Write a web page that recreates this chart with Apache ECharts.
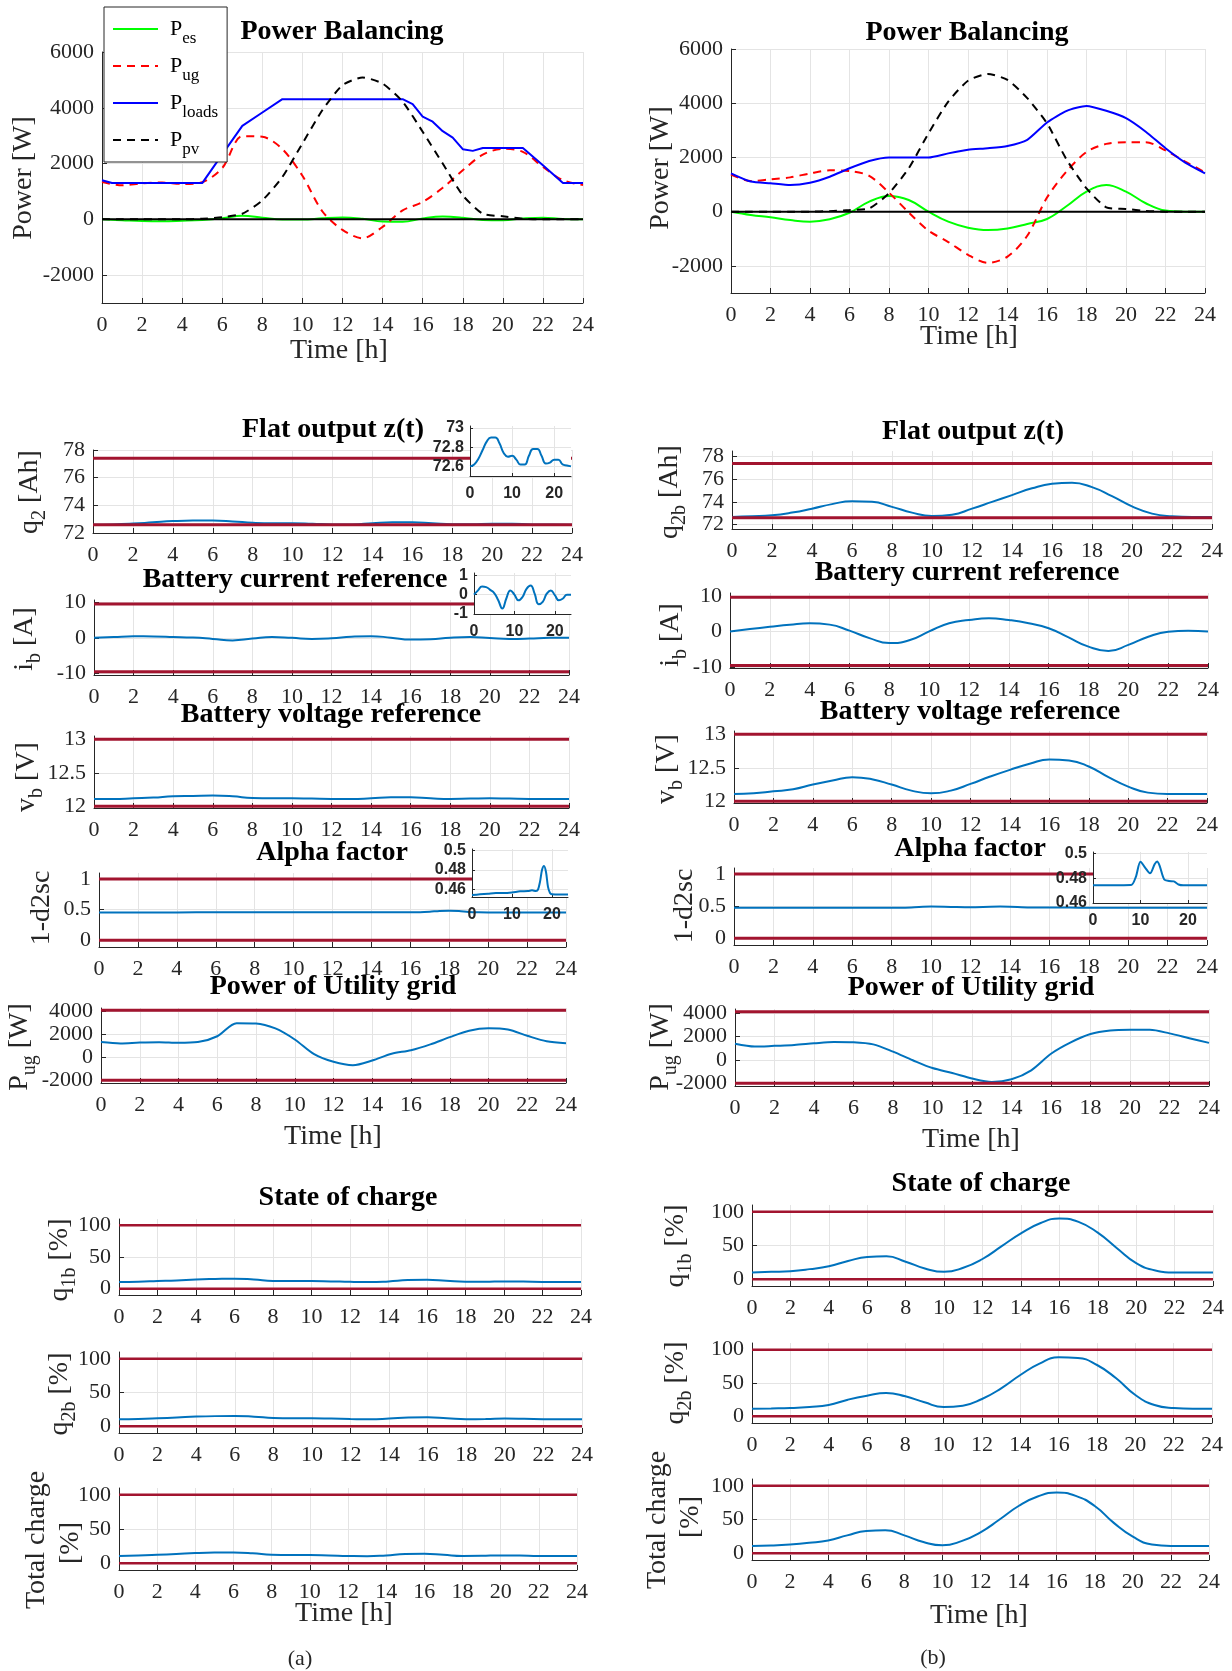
<!DOCTYPE html>
<html><head><meta charset="utf-8">
<script src="https://cdn.jsdelivr.net/npm/echarts@6/dist/echarts.min.js"></script>
<style>html,body{margin:0;padding:0;background:#fff}#c{width:1232px;height:1671px}</style>
</head><body><div id="c"></div>
<script>
// ---------- shared ----------
const hours = [0,1,2,3,4,5,6,7,8,9,10,11,12,13,14,15,16,17,18,19,20,21,22,23,24];
const xTickValues = [0,2,4,6,8,10,12,14,16,18,20,22,24];
const insetXTickValues = [0,10,20];
const limitSpan = [0,24];
const zeroRef = [0,0];

// y tick labels
const pbTicks = [-2000,0,2000,4000,6000];
const zTicks = [72,74,76,78];
const zInsetTicks = [72.6,72.8,73];
const ibTicks = [-10,0,10];
const ibInsetTicks = [-1,0,1];
const vbTicks = [12,12.5,13];
const alphaTicks = [0,0.5,1];
const alphaInsetTicks = [0.46,0.48,0.5];
const pugTicks = [-2000,0,2000,4000];
const socTicks = [0,50,100];

// limits (red lines)
const zLimits = [72.6,77.4];
const ibLimitsA = [-9.5,9.5];
const ibLimitsB = [-9.6,9.6];
const vbLimits = [12,13];
const alphaLimits = [0,1];
const pugLimits = [-2000,4100];
const socLimits = [0,100];

// ---------- (a) ----------
const pesA = [0,-30,-60,-70,-50,-20,40,130,60,-10,-10,40,70,20,-80,-90,30,100,60,-20,-30,30,60,10,0];
const pugA = [1340,1220,1290,1320,1270,1330,1840,2980,2960,2520,1560,280,-380,-680,-270,320,620,1130,1760,2320,2530,2420,1880,1400,1230];
const ploadsHoursA = [0,0.5,1,2,3,4,5,6,7,8,9,10,11,12,13,14,15,15.5,16,16.5,17,17.5,18,18.5,19,20,21,22,23,24];
const ploadsA = [1400,1300,1300,1300,1300,1300,1300,2330,3350,3830,4310,4310,4310,4310,4310,4310,4310,4130,3680,3500,3160,2930,2515,2455,2560,2560,2560,1940,1300,1300];
const ppvA = [0,0,0,0,0,20,80,200,680,1520,2720,3920,4810,5090,4870,4220,3140,2000,860,200,110,20,0,0,0];
const zA = [72.60,72.62,72.68,72.77,72.86,72.90,72.90,72.84,72.74,72.70,72.71,72.67,72.62,72.62,72.71,72.78,72.78,72.71,72.63,72.64,72.67,72.67,72.62,72.61,72.60];
const ibA = [0,0.22,0.42,0.39,0.25,0.08,-0.29,-0.71,-0.2,0.22,0,-0.29,-0.12,0.3,0.47,0.05,-0.49,-0.37,0.05,0.22,-0.03,-0.29,-0.2,0,0];
const vbA = [12.11,12.11,12.12,12.13,12.15,12.155,12.16,12.15,12.125,12.12,12.12,12.115,12.11,12.11,12.12,12.135,12.135,12.12,12.11,12.115,12.12,12.115,12.11,12.11,12.11];
const alphaHoursA = [0,2,4,6,8,10,12,14,15,16,16.5,17,17.5,18,18.5,19,19.5,20,22,24];
const alphaA = [0.4545,0.4552,0.4559,0.4566,0.4566,0.4572,0.4583,0.4586,0.4593,0.4586,0.4600,0.4680,0.4800,0.4841,0.4780,0.4628,0.4566,0.4552,0.4550,0.4550];
const q1bA = [10.5,11,12,13,14.5,15.3,15.8,14.5,12.3,12,12,11.5,10.8,10.5,11.5,13.5,14,12.5,10.8,10.8,11.5,11.2,10.6,10.5,10.5];
const q2bA = [10.2,10.8,11.8,13,14.3,15,15.2,14.2,12.3,11.8,11.8,11.3,10.6,10.2,11.3,13,13.4,12,10.5,10.6,11.3,11,10.4,10.2,10.2];
const totalA = [10.6,11.2,12.2,13.4,14.8,15.5,15.6,14.6,12.4,12,12,11.4,10.6,10.2,11.4,13.4,13.6,12.2,10.6,10.8,11.4,11.1,10.5,10.4,10.4];

// ---------- (b) ----------
const pesB = [0,-120,-210,-310,-370,-280,-40,370,580,430,0,-370,-590,-680,-620,-455,-270,210,740,985,740,310,40,0,0];
const pugB = [1370,1130,1195,1265,1410,1525,1500,1320,700,-30,-700,-1120,-1590,-1890,-1660,-890,520,1490,2200,2500,2560,2560,2260,1850,1450];
const ploadsB = [1415,1110,1050,985,1070,1290,1600,1870,2000,2000,2000,2150,2280,2340,2425,2650,3290,3720,3900,3720,3450,2950,2340,1810,1415];
const ppvB = [0,0,0,0,0,20,60,120,680,1600,2890,4060,4830,5080,4860,4190,3260,1910,860,160,100,25,0,0,0];
const zB = [72.67,72.72,72.81,73.05,73.4,73.8,74.06,74.0,73.56,73.05,72.76,72.87,73.4,74.0,74.6,75.2,75.6,75.7,75.3,74.5,73.6,72.96,72.73,72.67,72.67];
const ibB = [0,0.66,1.3,1.9,2.3,1.9,0.2,-1.9,-3.3,-2.5,0,2.3,3.2,3.7,3.2,2.3,0.9,-1.7,-4.3,-5.5,-3.8,-1.5,-0.1,0.2,0];
const vbB = [12.11,12.12,12.15,12.18,12.25,12.31,12.36,12.33,12.25,12.16,12.12,12.16,12.26,12.37,12.47,12.56,12.625,12.61,12.52,12.36,12.22,12.13,12.11,12.11,12.11];
const alphaHoursB = [0,4,8,9,10,11,12,13,13.5,14,15,16,17,18,19,24];
const alphaB = [0.4743,0.4743,0.4745,0.481,0.4935,0.4885,0.484,0.4915,0.4937,0.4905,0.479,0.4778,0.4775,0.475,0.4743,0.4743];
const q1bB = [10,11,12,15,19.3,27,33,34,26,16,11,17,30,49,68,83,90,85,69,46,24,13,10,10,10];
const q2bB = [11.4,11.8,12.4,14,17,25,31,35,30,21,14,16,26,42,62,79,88.5,87.5,77,57,32,17,12.4,11.4,11.4];
const totalB = [10.8,11.5,13,15.5,19,26.5,33,34,26.5,16.7,11.8,18,31,50,70,84,90,85,70,45,24.5,13,10.8,10.8,10.8];

// ---------- builders ----------
const SERIF = "'Liberation Serif','Times New Roman',serif";
const SANS = "'Liberation Sans',Arial,sans-serif";
const AX = '#262626', GRIDC = '#e4e4e4', RED = '#A2142F', BLUE = '#0072BD';
const grids = [], xAxes = [], yAxes = [], series = [], graphics = [];
const fmt = v => String(+(+v).toFixed(6));

function plot(rect, ymin, ymax, yticks, inset) {
  const gi = grids.length;
  grids.push({left: rect[0], top: rect[1], width: rect[2]-rect[0], height: rect[3]-rect[1],
    show: !!inset, backgroundColor: '#ffffff', borderWidth: 0, z: inset ? 5 : 0});
  const lab = inset
    ? {fontFamily: SANS, fontWeight: 'bold', fontSize: 16, color: AX}
    : {fontFamily: SERIF, fontSize: 22, color: AX};
  const xt = inset ? insetXTickValues : xTickValues;
  xAxes.push({type: 'value', gridIndex: gi, min: 0, max: 24, z: inset ? 6 : 1,
    axisLine: {show: true, onZero: false, lineStyle: {color: AX, width: 1}},
    axisTick: {show: true, inside: true, length: inset ? 3 : 5, customValues: xt, lineStyle: {color: AX}},
    axisLabel: Object.assign({margin: inset ? 10 : 11, customValues: xt, formatter: fmt}, lab),
    splitLine: {show: true, lineStyle: {color: GRIDC, width: 1}}});
  yAxes.push({type: 'value', gridIndex: gi, min: ymin, max: ymax, z: inset ? 6 : 1,
    axisLine: {show: true, onZero: false, lineStyle: {color: AX, width: 1}},
    axisTick: {show: true, inside: true, length: inset ? 3 : 5, customValues: yticks, lineStyle: {color: AX}},
    axisLabel: Object.assign({margin: inset ? 6 : 8, customValues: yticks, formatter: fmt}, lab),
    splitLine: {show: true, lineStyle: {color: GRIDC, width: 1}}});
  return gi;
}
function line(gi, xs, ys, color, width, o) {
  o = o || {};
  series.push({type: 'line', name: o.name, xAxisIndex: gi, yAxisIndex: gi,
    data: xs.map((x, i) => [x, ys[i]]), symbol: 'none', showSymbol: false,
    smooth: o.smooth || false, lineStyle: {color, width, type: o.dash || 'solid'},
    itemStyle: {color}, z: o.z || 3, silent: true, animation: false});
}
function limits(gi, lims, z, w) {
  lims.forEach(v => line(gi, limitSpan, [v, v], RED, w || 3, {z: z || 4}));
}
function txt(x, y, text, size, o) {
  o = o || {};
  graphics.push({type: 'text', x, y, rotation: o.rot || 0, z: 100, silent: true,
    style: {text, fontFamily: SERIF, fontSize: size, fontWeight: o.bold ? 'bold' : 'normal',
      fill: o.color || AX, align: 'center', verticalAlign: 'middle', rich: o.rich}});
}
const subRich = {
  m: {fontFamily: SERIF, fontSize: 28, lineHeight: 40, fill: AX},
  s: {fontFamily: SERIF, fontSize: 20, lineHeight: 20, verticalAlign: 'bottom', fill: AX}
};
function ylab(x, y, main, sub, rest, size) {
  if (sub) txt(x, y, '{m|' + main + '}{s|' + sub + '}{m|' + rest + '}', 28, {rot: Math.PI/2, rich: subRich});
  else txt(x, y, main, size || 28, {rot: Math.PI/2});
}
const ttl = (x, y, t) => txt(x, y, t, 28, {bold: true, color: '#000'});

// ---------- column (a) ----------
let g;
g = plot([102,52,583,303], -3000, 6000, pbTicks);
line(g, hours, pesA, '#00FF00', 2, {name: 'P_es', smooth: 0.4});
line(g, hours, pugA, '#FF0000', 2, {name: 'P_ug', smooth: 0.3, dash: [8,6]});
line(g, ploadsHoursA, ploadsA, '#0000FF', 2, {name: 'P_loads'});
line(g, hours, ppvA, '#000000', 2, {name: 'P_pv', smooth: 0.2, dash: [8,6]});
line(g, limitSpan, zeroRef, '#000000', 2, {z: 4});

g = plot([93,450,572,533], 72, 78, zTicks);
line(g, hours, zA, BLUE, 2, {smooth: true}); limits(g, zLimits);
g = plot([470,426,571,476], 72.5, 73.02, zInsetTicks, true);
line(g, hours, zA, BLUE, 2, {smooth: true, z: 7});

g = plot([94,600,569,675], -10.4, 10.6, ibTicks);
line(g, hours, ibA, BLUE, 2, {smooth: true}); limits(g, ibLimitsA);
g = plot([474,573,571,614], -1, 1.12, ibInsetTicks, true);
line(g, hours, ibA, BLUE, 2, {smooth: true, z: 7});

g = plot([94,736,569,808], 11.975, 13.05, vbTicks);
line(g, hours, vbA, BLUE, 2, {smooth: true}); limits(g, vbLimits);

g = plot([99,873,566,947], -0.11, 1.1, alphaTicks);
line(g, alphaHoursA, alphaA, BLUE, 2, {smooth: 0.3}); limits(g, alphaLimits);
g = plot([472,849,568,897], 0.4525, 0.5015, alphaInsetTicks, true);
line(g, alphaHoursA, alphaA, BLUE, 2, {smooth: 0.3, z: 7});

g = plot([101,1008,566,1083], -2230, 4300, pugTicks);
line(g, hours, pugA, BLUE, 2, {smooth: 0.3}); limits(g, pugLimits);

g = plot([119,1219,581,1295], -10, 110, socTicks);
line(g, hours, q1bA, BLUE, 2, {smooth: true}); limits(g, socLimits, 4, 2.5);
g = plot([119,1352,582,1433], -10, 110, socTicks);
line(g, hours, q2bA, BLUE, 2, {smooth: true}); limits(g, socLimits, 4, 2.5);
g = plot([119,1488,577,1570], -10, 110, socTicks);
line(g, hours, totalA, BLUE, 2, {smooth: true}); limits(g, socLimits, 4, 2.5);

// ---------- column (b) ----------
g = plot([731,49,1205,293], -3000, 6000, pbTicks);
line(g, hours, pesB, '#00FF00', 2, {smooth: 0.4});
line(g, hours, pugB, '#FF0000', 2, {smooth: 0.3, dash: [8,6]});
line(g, hours, ploadsB, '#0000FF', 2, {smooth: 0.2});
line(g, hours, ppvB, '#000000', 2, {smooth: 0.2, dash: [8,6]});
line(g, limitSpan, zeroRef, '#000000', 2, {z: 4});

g = plot([732,451,1212,529], 71.6, 78.5, zTicks);
line(g, hours, zB, BLUE, 2, {smooth: true}); limits(g, zLimits);

g = plot([730,593,1208,668], -10.3, 10.8, ibTicks);
line(g, hours, ibB, BLUE, 2, {smooth: true}); limits(g, ibLimitsB);

g = plot([734,731,1207,803], 11.975, 13.05, vbTicks);
line(g, hours, vbB, BLUE, 2, {smooth: true}); limits(g, vbLimits);

g = plot([734,868,1207,945], -0.104, 1.094, alphaTicks);
line(g, alphaHoursB, alphaB, BLUE, 2, {smooth: 0.3}); limits(g, alphaLimits);
g = plot([1093,852,1207,903], 0.46, 0.5013, alphaInsetTicks, true);
line(g, alphaHoursB, alphaB, BLUE, 2, {smooth: 0.3, z: 7});

g = plot([735,1009,1209,1086], -2230, 4340, pugTicks);
line(g, hours, pugB, BLUE, 2, {smooth: 0.3}); limits(g, pugLimits);

g = plot([752,1205,1213,1286], -10, 110, socTicks);
line(g, hours, q1bB, BLUE, 2, {smooth: true}); limits(g, socLimits, 4, 2.5);
g = plot([752,1343,1212,1423], -10, 110, socTicks);
line(g, hours, q2bB, BLUE, 2, {smooth: true}); limits(g, socLimits, 4, 2.5);
g = plot([752,1479,1209,1560], -10, 110, socTicks);
line(g, hours, totalB, BLUE, 2, {smooth: true}); limits(g, socLimits, 4, 2.5);

// ---------- texts ----------
ttl(342,32,'Power Balancing'); ttl(967,33,'Power Balancing');
ttl(333,430,'Flat output z(t)'); ttl(973,432,'Flat output z(t)');
ttl(295,580,'Battery current reference'); ttl(967,573,'Battery current reference');
ttl(331,715,'Battery voltage reference'); ttl(970,712,'Battery voltage reference');
ttl(332,853,'Alpha factor'); ttl(970,849,'Alpha factor');
ttl(333,987,'Power of Utility grid'); ttl(971,988,'Power of Utility grid');
ttl(348,1198,'State of charge'); ttl(981,1184,'State of charge');

txt(339,351,'Time [h]',28); txt(969,337,'Time [h]',28);
txt(333,1137,'Time [h]',28); txt(971,1140,'Time [h]',28);
txt(344,1614,'Time [h]',28); txt(979,1616,'Time [h]',28);
txt(300,1659,'(a)',22); txt(933,1658,'(b)',22);

ylab(24,178,'Power [W]',null,null,28); ylab(661,168,'Power [W]',null,null,28);
ylab(30,492,'q','2',' [Ah]'); ylab(670,492,'q','2b',' [Ah]');
ylab(25,639,'i','b',' [A]'); ylab(671,635,'i','b',' [A]');
ylab(27,777,'v','b',' [V]'); ylab(667,769,'v','b',' [V]');
ylab(42,908,'1-d2sc'); ylab(685,906,'1-d2sc');
ylab(20,1047,'P','ug',' [W]'); ylab(661,1047,'P','ug',' [W]');
ylab(60,1260,'q','1b',' [%]'); ylab(676,1246,'q','1b',' [%]');
ylab(60,1394,'q','2b',' [%]'); ylab(676,1383,'q','2b',' [%]');
ylab(37,1540,'Total charge'); ylab(71,1543,'[%]');
ylab(658,1520,'Total charge'); ylab(691,1517,'[%]');

const chart = echarts.init(document.getElementById('c'), null, {renderer: 'canvas'});
chart.setOption({
  backgroundColor: '#ffffff',
  animation: false,
  grid: grids, xAxis: xAxes, yAxis: yAxes, series,
  legend: {
    orient: 'vertical', left: 104, top: 7, padding: [11,9,4,8], itemGap: 8,
    itemWidth: 45, itemHeight: 14, backgroundColor: '#ffffff', borderColor: AX, borderWidth: 1,
    z: 50, selectedMode: false, itemStyle: {opacity: 0},
    data: ['P_es','P_ug','P_loads','P_pv'],
    formatter: n => '{p|P}{s|' + n.slice(2) + '}',
    textStyle: {rich: {
      p: {fontFamily: SERIF, fontSize: 22, lineHeight: 36, color: '#000', padding: [0,0,0,7]},
      s: {fontFamily: SERIF, fontSize: 17, lineHeight: 18, verticalAlign: 'bottom', color: '#000'}
    }}
  },
  graphic: {elements: graphics}
});
</script></body></html>
